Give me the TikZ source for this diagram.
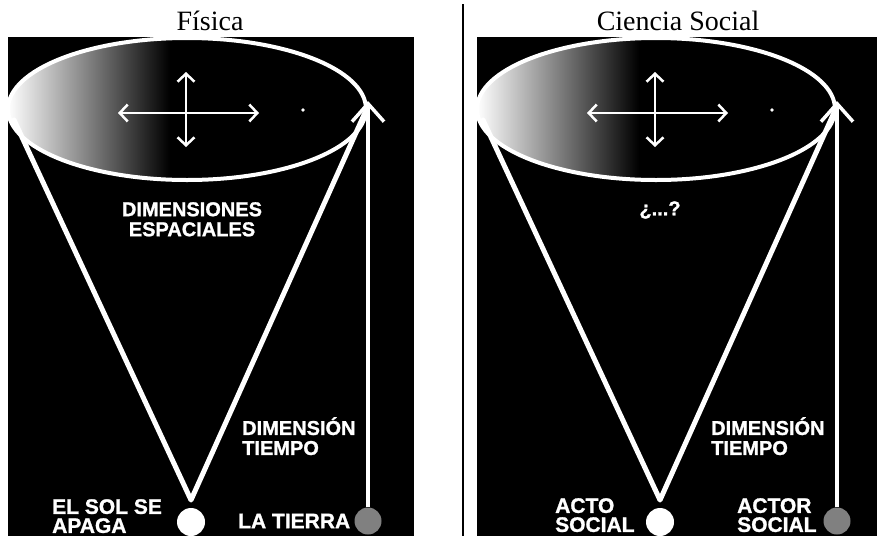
\documentclass[tikz,border=0pt]{standalone}
\usepackage{fontspec}
\setmainfont{Liberation Serif}
\newfontfamily\lblfont[BoldFont=Liberation Sans Bold, BoldFeatures={FakeBold=1.2}]{Liberation Sans}
\usetikzlibrary{arrows.meta}
\begin{document}
\begin{tikzpicture}[x=1pt,y=-1pt,
  rim/.style={draw=white,line width=4pt},
  conel/.style={draw=white,line width=5pt,line cap=round,line join=round},
  axis/.style={draw=white,line width=2.5pt,{Straight Barb[length=8pt,width=17pt]}-{Straight Barb[length=8pt,width=17pt]}},
  timearrow/.style={draw=white,line width=3.5pt,-{Straight Barb[length=18pt,width=32pt]}},
  lbl/.style={text=white,font=\lblfont\bfseries\fontsize{20}{20}\selectfont,inner sep=0pt},
  lblb/.style={text=white,font=\lblfont\bfseries\fontsize{21}{19}\selectfont,inner sep=0pt},
  ttl/.style={font=\fontsize{28}{30}\selectfont,inner sep=0pt},
  dot/.style={circle,fill=white,minimum size=28pt,inner sep=0pt},
  graydot/.style={circle,fill=gray,minimum size=27pt,inner sep=0pt}
]
\useasboundingbox (0,0) rectangle (877,536);
\draw[line width=2pt] (463,4) -- (463,536);
\node[ttl,anchor=base] (t1) at (210,30) {Física};
\node[ttl,anchor=base] (t2) at (678,30) {Ciencia Social};

% ---------- left panel ----------
\fill[black] (8,37) rectangle (414,536);
\begin{scope}
  \clip (187,109) ellipse [x radius=179pt, y radius=71pt];
  \shade[left color=white,right color=black] (8,30) rectangle (170,190);
\end{scope}
\draw[rim] (187,109) ellipse [x radius=179pt, y radius=71pt];
\coordinate (apexL) at (191,500);
\coordinate (clL) at (14,120);
\coordinate (crL) at (368,106);
\draw[conel] (clL) -- (apexL) -- (crL);
\node[dot] (solL) at (191,522) {};
\node[graydot] (tierraL) at (368,521) {};
\coordinate (tipL) at (368,101);
\draw[timearrow] (tierraL.north) -- (tipL);
\coordinate (hlL) at (118,113);
\coordinate (hrL) at (259,113);
\coordinate (vtL) at (186,72);
\coordinate (vbL) at (186,147);
\draw[axis] (hlL) -- (hrL);
\draw[axis] (vtL) -- (vbL);
\fill[white] (303,110) circle (1.8pt);
\node[lbl,align=center,anchor=north] (espL) at (192,202) {DIMENSIONES\\ESPACIALES};
\node[lbl,align=left,anchor=north west] (timeL) at (242,417) {DIMENSIÓN\\TIEMPO};
\node[lblb,align=left,anchor=north west] (solLbl) at (52,499) {EL SOL SE\\APAGA};
\node[lblb,anchor=west] (tierraLbl) at (238,521) {LA TIERRA};

% ---------- right panel ----------
\fill[black] (477,37) rectangle (877,536);
\begin{scope}
  \clip (656,109) ellipse [x radius=179pt, y radius=71pt];
  \shade[left color=white,right color=black] (477,30) rectangle (639,190);
\end{scope}
\draw[rim] (656,109) ellipse [x radius=179pt, y radius=71pt];
\coordinate (apexR) at (660,500);
\coordinate (clR) at (483,120);
\coordinate (crR) at (837,106);
\draw[conel] (clR) -- (apexR) -- (crR);
\node[dot] (actoR) at (660,522) {};
\node[graydot] (actorR) at (837,521) {};
\coordinate (tipR) at (837,101);
\draw[timearrow] (actorR.north) -- (tipR);
\coordinate (hlR) at (587,113);
\coordinate (hrR) at (728,113);
\coordinate (vtR) at (655,72);
\coordinate (vbR) at (655,147);
\draw[axis] (hlR) -- (hrR);
\draw[axis] (vtR) -- (vbR);
\fill[white] (772,110) circle (1.8pt);
\node[lbl] (preg) at (660,210) {¿...?};
\node[lbl,align=left,anchor=north west] (timeR) at (711,417) {DIMENSIÓN\\TIEMPO};
\node[lblb,align=left,anchor=north west] (actoLbl) at (555,498) {ACTO\\SOCIAL};
\node[lblb,align=left,anchor=north west] (actorLbl) at (737,498) {ACTOR\\SOCIAL};
\end{tikzpicture}
\end{document}
